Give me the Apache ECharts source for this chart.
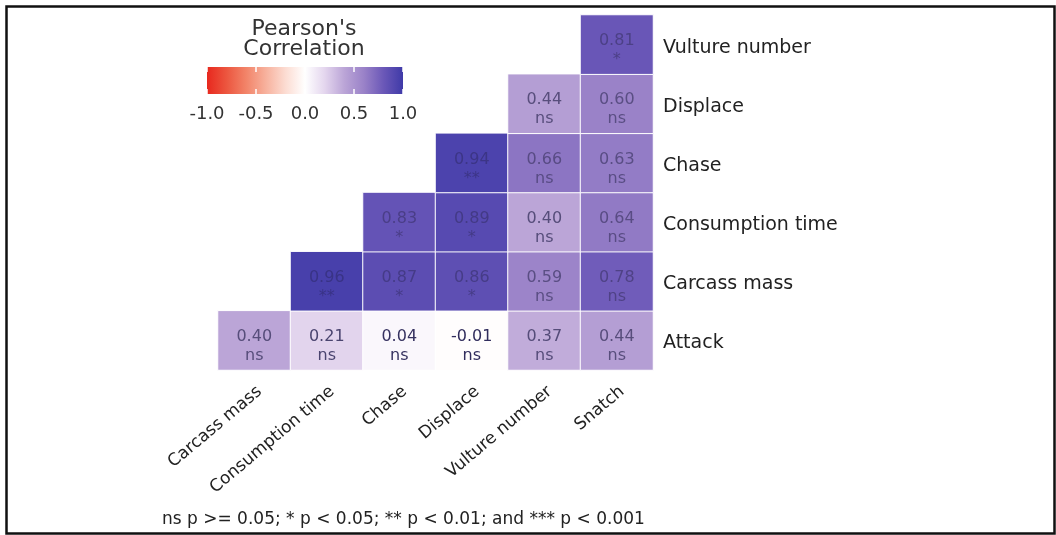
<!DOCTYPE html>
<html>
<head>
<meta charset="utf-8">
<script src="https://cdn.jsdelivr.net/npm/echarts@6/dist/echarts.min.js"></script>
<style>
  html, body { margin: 0; padding: 0; background: #fff; }
  #chart { width: 1056px; height: 535px; }
</style>
</head>
<body>
<div id="chart"></div>
<script>
// Variables along each axis (y runs bottom to top)
const variablesX = ['Carcass mass', 'Consumption time', 'Chase', 'Displace', 'Vulture number', 'Snatch'];
const variablesY = ['Attack', 'Carcass mass', 'Consumption time', 'Chase', 'Displace', 'Vulture number'];

// Pearson correlations, one row per y variable (null = upper triangle, not drawn)
const rAttack           = [0.40, 0.21, 0.04, -0.01, 0.37, 0.44];
const rCarcassMass      = [null, 0.96, 0.87, 0.86, 0.59, 0.78];
const rConsumptionTime  = [null, null, 0.83, 0.89, 0.40, 0.64];
const rChase            = [null, null, null, 0.94, 0.66, 0.63];
const rDisplace         = [null, null, null, null, 0.44, 0.60];
const rVultureNumber    = [null, null, null, null, null, 0.81];

// Significance codes for the same cells
const sigAttack          = ['ns', 'ns', 'ns', 'ns', 'ns', 'ns'];
const sigCarcassMass     = [null, '**', '*', '*', 'ns', 'ns'];
const sigConsumptionTime = [null, null, '*', '*', 'ns', 'ns'];
const sigChase           = [null, null, null, '**', 'ns', 'ns'];
const sigDisplace        = [null, null, null, null, 'ns', 'ns'];
const sigVultureNumber   = [null, null, null, null, null, '*'];

// Colour bar ticks
const legendTicks = [-1.0, -0.5, 0.0, 0.5, 1.0];
const legendTitle = "Pearson's\nCorrelation";
const footnote = 'ns p >= 0.05; * p < 0.05; ** p < 0.01; and *** p < 0.001';

const rRows = [rAttack, rCarcassMass, rConsumptionTime, rChase, rDisplace, rVultureNumber];
const sigRows = [sigAttack, sigCarcassMass, sigConsumptionTime, sigChase, sigDisplace, sigVultureNumber];

// Diverging palette, evenly spaced from -1 to 1 (step 0.2)
const palette = ['#e8281e', '#ec563f', '#f28469', '#f7b19d', '#fcdcd2', '#ffffff',
                 '#e4d6ee', '#bba5d7', '#9a82c8', '#6b58b8', '#3f3aa8'];

function hexToRgb(h) {
  return [parseInt(h.slice(1, 3), 16), parseInt(h.slice(3, 5), 16), parseInt(h.slice(5, 7), 16)];
}
function colourAt(v) {
  const t = (Math.max(-1, Math.min(1, v)) + 1) / 2 * (palette.length - 1);
  const i = Math.min(palette.length - 2, Math.floor(t));
  const f = t - i;
  const a = hexToRgb(palette[i]), b = hexToRgb(palette[i + 1]);
  return a.map((c, k) => c + (b[k] - c) * f);
}
// Cell text: dark on pale cells, fading towards the fill on strong cells
function labelColour(v) {
  const fill = colourAt(v);
  const dark = [48, 44, 92];
  const w = 1 - 0.9 * Math.abs(v);
  const shade = fill.map(c => c * 0.82);
  const mix = shade.map((c, k) => Math.round(c * (1 - w) + dark[k] * w));
  return 'rgb(' + mix.join(',') + ')';
}

const cells = [];
rRows.forEach((row, yi) => {
  row.forEach((v, xi) => {
    if (v === null) return;
    cells.push({
      value: [xi, yi, v, sigRows[yi][xi]],
      label: { color: labelColour(v) }
    });
  });
});

const FONT = 'DejaVu Sans';
const gradientStops = palette.map((c, i) => ({ offset: i / (palette.length - 1), color: c }));

const chart = echarts.init(document.getElementById('chart'), null, { renderer: 'canvas' });
chart.setOption({
  backgroundColor: '#ffffff',
  animation: false,
  textStyle: { fontFamily: FONT },
  title: [
    {
      text: legendTitle,
      left: 304, top: 19, textAlign: 'center', padding: 0,
      textStyle: { fontFamily: FONT, fontSize: 22, fontWeight: 'normal', color: '#333', lineHeight: 20 }
    },
    {
      text: footnote,
      left: 162, top: 511, padding: 0,
      textStyle: { fontFamily: FONT, fontSize: 17, fontWeight: 'normal', color: '#222' }
    }
  ],
  graphic: [{
    type: 'rect', left: 4, top: 4, silent: true,
    shape: { width: 1048, height: 527 },
    style: { fill: 'none', stroke: '#111', lineWidth: 2.5 }
  }],
  grid: [
    { left: 218, top: 15, width: 435, height: 355 },
    { left: 207, top: 67, width: 196, height: 27 }
  ],
  xAxis: [
    {
      type: 'category', gridIndex: 0, data: variablesX,
      axisLine: { show: false }, axisTick: { show: false }, splitLine: { show: false },
      axisLabel: { rotate: 40, margin: 13, verticalAlign: 'top', fontFamily: FONT, fontSize: 17,
                   color: '#222', interval: 0 }
    },
    {
      type: 'value', gridIndex: 1, min: -1, max: 1, interval: 0.5, z: 5,
      axisLine: { show: false }, splitLine: { show: false },
      axisTick: { show: true, inside: true, length: 5, lineStyle: { color: '#ffffff', width: 1.5 } },
      axisLabel: { margin: 11, fontFamily: FONT, fontSize: 18, color: '#333',
                   formatter: v => legendTicks.includes(v) ? v.toFixed(1) : '' }
    },
    {
      type: 'value', gridIndex: 1, position: 'top', min: -1, max: 1, interval: 0.5, z: 5,
      axisLine: { show: false }, splitLine: { show: false }, axisLabel: { show: false },
      axisTick: { show: true, inside: true, length: 5, lineStyle: { color: '#ffffff', width: 1.5 } }
    }
  ],
  yAxis: [
    {
      type: 'category', gridIndex: 0, data: variablesY, position: 'right',
      axisLine: { show: false }, axisTick: { show: false }, splitLine: { show: false },
      axisLabel: {
        margin: 10, fontFamily: FONT, fontSize: 19, color: '#222',
        formatter: v => '{n|' + v + '}',
        rich: { n: { fontFamily: FONT, fontSize: 19, color: '#222', padding: [6, 0, 0, 0] } }
      }
    },
    { type: 'value', gridIndex: 1, min: 0, max: 1, show: false }
  ],
  visualMap: {
    show: false, type: 'continuous', seriesIndex: 0, dimension: 2,
    min: -1, max: 1, inRange: { color: palette }
  },
  series: [
    {
      type: 'heatmap', xAxisIndex: 0, yAxisIndex: 0,
      data: cells,
      itemStyle: { borderColor: '#ffffff', borderWidth: 1 },
      label: {
        show: true, fontFamily: FONT, fontSize: 16, lineHeight: 19, offset: [0, 6],
        formatter: p => p.value[2].toFixed(2) + '\n' + p.value[3]
      },
      emphasis: { disabled: true }
    },
    {
      // colour bar drawn on its own value axis
      type: 'custom', xAxisIndex: 1, yAxisIndex: 1, z: 1,
      data: [[legendTicks[0], legendTicks[legendTicks.length - 1]]],
      renderItem: (params, api) => {
        const p0 = api.coord([api.value(0), 1]);
        const p1 = api.coord([api.value(1), 0]);
        return {
          type: 'rect',
          shape: { x: p0[0], y: p0[1], width: p1[0] - p0[0], height: p1[1] - p0[1] },
          style: { fill: new echarts.graphic.LinearGradient(0, 0, 1, 0, gradientStops) }
        };
      },
      silent: true
    }
  ]
});
</script>
</body>
</html>
